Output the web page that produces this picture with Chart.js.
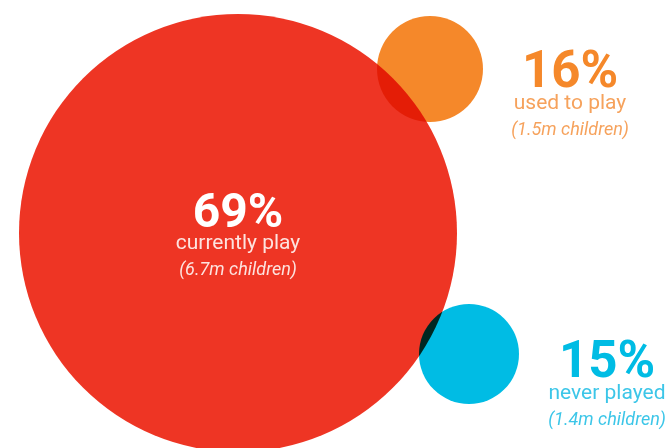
<!DOCTYPE html>
<html>
<head>
<meta charset="utf-8">
<script src="https://cdn.jsdelivr.net/npm/chart.js@4"></script>
<style>
  html, body { margin: 0; padding: 0; background: #fff; }
  #wrap { width: 669px; height: 448px; position: relative; }
</style>
</head>
<body>
<div id="wrap"><canvas id="bubbles"></canvas></div>
<script>
// chart values
const categories = ['currently play', 'used to play', 'never played'];
const shares = [69, 16, 15];
const childCounts = ['6.7m', '1.5m', '1.4m'];
const bubbleX = [238, 430, 469];
const bubbleY = [233, 69, 354];
const bubbleR = [219, 53, 50];

const fills = ['#ee3524', '#f5882a', '#00bce4'];
const textMain = ['#ffffff', '#f5882a', '#00bce4'];
const textSub = ['#fde3df', '#f6a25c', '#3cc6e8'];
// where each label sits relative to its bubble centre
const labelAt = [{ dx: 0, dy: -6 }, { dx: 140, dy: 18 }, { dx: 138, dy: 23 }];

const FONT = 'Roboto, "DejaVu Sans", sans-serif';

// overlaps darken like ink: multiply blend for the bubbles
const multiplyPlugin = {
    id: 'multiply',
    beforeDatasetsDraw(chart) {
        chart.ctx.save();
        chart.ctx.globalCompositeOperation = 'multiply';
    },
    afterDatasetsDraw(chart) {
        chart.ctx.restore();
    }
};

const labelPlugin = {
    id: 'bubbleLabels',
    afterDraw(chart) {
        const ctx = chart.ctx;
        const meta = chart.getDatasetMeta(0);
        meta.data.forEach((el, i) => {
            const x = el.x + labelAt[i].dx;
            const y = el.y + labelAt[i].dy;
            ctx.save();
            ctx.textAlign = 'center';
            ctx.textBaseline = 'alphabetic';
            ctx.fillStyle = textMain[i];
            ctx.font = 'bold ' + (i === 0 ? 48 : 51) + 'px ' + FONT;
            ctx.fillText(shares[i] + '%', x, y);
            ctx.fillStyle = textSub[i];
            ctx.font = '21px ' + FONT;
            ctx.fillText(categories[i], x, y + 22);
            ctx.font = 'italic 18px ' + FONT;
            ctx.fillText('(' + childCounts[i] + ' children)', x, y + 48);
            ctx.restore();
        });
    }
};

const chart = new Chart(document.getElementById('bubbles'), {
    type: 'bubble',
    data: {
        labels: categories,
        datasets: [{
            label: 'Children playing',
            data: shares.map((s, i) => ({ x: bubbleX[i], y: bubbleY[i], r: bubbleR[i] })),
            backgroundColor: fills,
            borderWidth: 0,
            hoverBorderWidth: 0,
            clip: false
        }]
    },
    options: {
        responsive: true,
        maintainAspectRatio: false,
        animation: false,
        events: [],
        layout: { padding: 0, autoPadding: false },
        plugins: {
            legend: { display: false },
            tooltip: { enabled: false }
        },
        scales: {
            x: { type: 'linear', min: 0, max: 669, display: false },
            y: { type: 'linear', min: 0, max: 448, reverse: true, display: false }
        }
    },
    plugins: [multiplyPlugin, labelPlugin]
});
</script>
</body>
</html>
